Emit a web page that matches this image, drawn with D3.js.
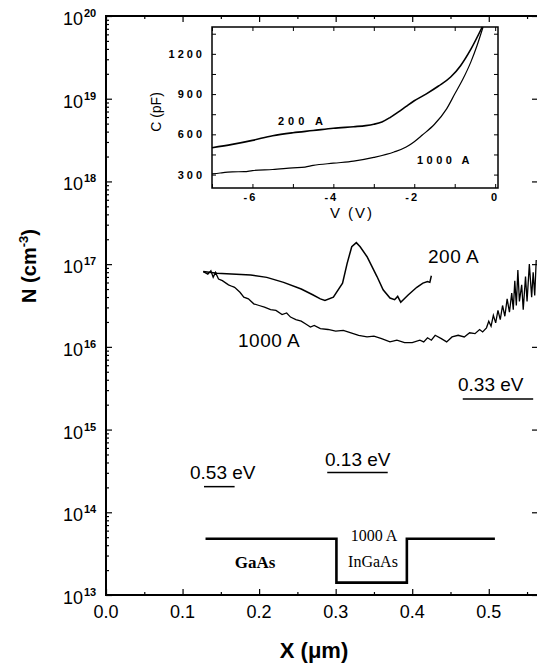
<!DOCTYPE html>
<html>
<head>
<meta charset="utf-8">
<script src="https://cdn.jsdelivr.net/npm/d3@7"></script>
<style>
  body { margin: 0; background: #fff; }
  svg { display: block; font-family: Arial, "Liberation Sans", sans-serif; }
</style>
</head>
<body>
<svg id="chart" width="537" height="666"></svg>
<script>
// main plot: X (um) vs log10 N
const xTicks = [0.0, 0.1, 0.2, 0.3, 0.4, 0.5];
const yExps = [13, 14, 15, 16, 17, 18, 19, 20];

const x200 = [0.127, 0.145, 0.189, 0.210, 0.232, 0.255, 0.270, 0.280, 0.286, 0.297, 0.309, 0.315, 0.321, 0.327, 0.332, 0.341, 0.354, 0.362, 0.371, 0.377, 0.381, 0.385, 0.395, 0.406, 0.414, 0.420, 0.423, 0.425];
const logN200 = [16.91, 16.89, 16.87, 16.84, 16.78, 16.70, 16.63, 16.58, 16.56, 16.60, 16.77, 17.01, 17.21, 17.26, 17.21, 17.09, 16.85, 16.69, 16.59, 16.57, 16.61, 16.54, 16.63, 16.72, 16.77, 16.79, 16.78, 16.86];

const x1000 = [0.127, 0.133, 0.137, 0.140, 0.143, 0.147, 0.152, 0.160, 0.165, 0.168, 0.175, 0.180, 0.186, 0.193, 0.200, 0.207, 0.215, 0.222, 0.230, 0.236, 0.241, 0.248, 0.255, 0.262, 0.267, 0.272, 0.280, 0.290, 0.300, 0.310, 0.320, 0.330, 0.341, 0.350, 0.360, 0.371, 0.380, 0.390, 0.400, 0.410, 0.415, 0.420, 0.425, 0.430, 0.438, 0.445, 0.452, 0.460, 0.468, 0.475, 0.482, 0.488, 0.492, 0.497, 0.500, 0.503, 0.506, 0.509, 0.512, 0.515, 0.518, 0.521, 0.524, 0.527, 0.530, 0.532, 0.534, 0.536, 0.538, 0.540, 0.543, 0.545, 0.548, 0.550, 0.553, 0.556, 0.558, 0.560, 0.562];
const logN1000 = [16.91, 16.88, 16.92, 16.84, 16.90, 16.82, 16.80, 16.75, 16.73, 16.72, 16.66, 16.60, 16.58, 16.52, 16.50, 16.48, 16.45, 16.44, 16.39, 16.41, 16.36, 16.33, 16.31, 16.27, 16.24, 16.26, 16.22, 16.21, 16.19, 16.20, 16.17, 16.14, 16.12, 16.13, 16.10, 16.06, 16.08, 16.05, 16.05, 16.08, 16.06, 16.11, 16.08, 16.14, 16.10, 16.06, 16.12, 16.14, 16.12, 16.17, 16.16, 16.21, 16.18, 16.23, 16.31, 16.25, 16.38, 16.29, 16.44, 16.33, 16.50, 16.37, 16.58, 16.42, 16.65, 16.45, 16.80, 16.50, 16.93, 16.55, 16.75, 16.45, 16.85, 16.55, 17.00, 16.60, 16.90, 16.62, 17.05];

// energy levels (x start, x end, log10 N) and labels
const levelNames = ["0.53 eV", "0.13 eV", "0.33 eV"];
const levelX0 = [0.128, 0.289, 0.466];
const levelX1 = [0.168, 0.368, 0.558];
const levelLogN = [14.31, 14.48, 15.37];

// band profile (GaAs / InGaAs / GaAs)
const bandX = [0.130, 0.301, 0.301, 0.393, 0.393, 0.508];
const bandLogN = [13.68, 13.68, 13.15, 13.15, 13.68, 13.68];

// inset: C-V curves
const vTicks = [-6, -4, -2, 0];
const cTicks = [300, 600, 900, 1200];
const v200 = [-7, -6.5, -6, -5.5, -5, -4.5, -4, -3.5, -3.2, -3, -2.8, -2.6, -2.4, -2.2, -2, -1.7, -1.4, -1.1, -0.86, -0.6, -0.32];
const c200 = [500, 525, 555, 590, 612, 628, 645, 657, 665, 675, 692, 725, 765, 808, 850, 902, 960, 1027, 1110, 1235, 1400];
const v1000 = [-7, -6.8, -6.5, -6.2, -6, -5.5, -5, -4.7, -4.5, -4, -3.5, -3, -2.5, -2.2, -2, -1.8, -1.5, -1.2, -1, -0.8, -0.6, -0.45, -0.3];
const c1000 = [305, 312, 320, 322, 330, 338, 350, 356, 368, 385, 400, 428, 468, 505, 545, 595, 675, 790, 900, 1010, 1140, 1260, 1400];

const svg = d3.select("#chart");
const L = 106, R = 537, T = 16, B = 595;

const x = d3.scaleLinear().domain([0, 0.563]).range([L, R]);
const y = d3.scaleLog().domain([1e13, 1e20]).range([B, T]);

// ticks
const minorX = d3.range(0.05, 0.56, 0.1);
const minorY = [];
yExps.slice(0, -1).forEach(e => { for (let k = 2; k <= 9; k++) minorY.push(k * Math.pow(10, e)); });
const majorY = yExps.map(e => Math.pow(10, e));

function ticks(axis, pos, vals, size) {
  const g = svg.append("g").attr("transform", pos).call(axis.tickValues(vals).tickSize(size).tickFormat(""));
  g.select(".domain").remove();
  g.selectAll("line").attr("stroke", "#000").attr("stroke-width", 1.2);
}
ticks(d3.axisBottom(x), `translate(0,${B})`, xTicks, -6);
ticks(d3.axisBottom(x), `translate(0,${B})`, minorX, -3);
ticks(d3.axisTop(x), `translate(0,${T})`, xTicks, -6);
ticks(d3.axisTop(x), `translate(0,${T})`, minorX, -3);
ticks(d3.axisLeft(y), `translate(${L},0)`, majorY, -6);
ticks(d3.axisLeft(y), `translate(${L},0)`, minorY, -3);
ticks(d3.axisRight(y), `translate(${R},0)`, majorY, -5);

// frame
svg.append("path")
  .attr("d", `M${R},${T}H${L}V${B}H${R}`)
  .attr("fill", "none").attr("stroke", "#000").attr("stroke-width", 2);

// tick labels
svg.append("g").selectAll("text").data(xTicks).join("text")
  .attr("x", d => x(d)).attr("y", 618)
  .attr("text-anchor", "middle").attr("font-size", 18)
  .text(d => d.toFixed(1));

const yl = svg.append("g").selectAll("g").data(yExps).join("g")
  .attr("transform", d => `translate(83,${y(Math.pow(10, d))})`);
yl.append("text").attr("x", 0).attr("y", 9).attr("text-anchor", "end").attr("font-size", 18).text("10");
yl.append("text").attr("x", 1).attr("y", 1).attr("font-size", 11).attr("font-weight", "bold").text(d => d);

// axis titles
svg.append("text").attr("x", 314).attr("y", 658).attr("text-anchor", "middle")
  .attr("font-size", 22).attr("font-weight", "bold").text("X (\u03bcm)");
const yt = svg.append("text").attr("transform", "translate(36,266) rotate(-90)")
  .attr("text-anchor", "middle").attr("font-size", 20).attr("font-weight", "bold");
yt.append("tspan").text("N (cm");
yt.append("tspan").attr("dy", -8).attr("font-size", 13).text("-3");
yt.append("tspan").attr("dy", 8).text(")");

// curves
const line = d3.line().x(d => x(d[0])).y(d => y(Math.pow(10, d[1])));
svg.append("path").datum(d3.zip(x1000, logN1000))
  .attr("d", line).attr("fill", "none").attr("stroke", "#000").attr("stroke-width", 1.3);
svg.append("path").datum(d3.zip(x200, logN200))
  .attr("d", line).attr("fill", "none").attr("stroke", "#000").attr("stroke-width", 1.5);

svg.append("text").attr("x", 428).attr("y", 263).attr("font-size", 19).attr("letter-spacing", 0.5).text("200 A");
svg.append("text").attr("x", 238).attr("y", 347).attr("font-size", 19).attr("letter-spacing", 0.5).text("1000 A");

// energy levels
levelNames.forEach((name, i) => {
  const yy = y(Math.pow(10, levelLogN[i]));
  svg.append("line").attr("x1", x(levelX0[i])).attr("x2", x(levelX1[i]))
    .attr("y1", yy).attr("y2", yy).attr("stroke", "#000").attr("stroke-width", 1.5);
});
svg.append("text").attr("x", 190).attr("y", 479).attr("font-size", 19).text(levelNames[0]);
svg.append("text").attr("x", 325).attr("y", 466).attr("font-size", 19).text(levelNames[1]);
svg.append("text").attr("x", 458).attr("y", 391).attr("font-size", 19).text(levelNames[2]);

// band diagram
svg.append("path").datum(d3.zip(bandX, bandLogN))
  .attr("d", line).attr("fill", "none").attr("stroke", "#000").attr("stroke-width", 2.6);
svg.append("text").attr("x", 255).attr("y", 568).attr("text-anchor", "middle")
  .attr("font-family", "'Liberation Serif', 'Times New Roman', serif")
  .attr("font-weight", "bold").attr("font-size", 17).text("GaAs");
svg.append("text").attr("x", 374).attr("y", 541).attr("text-anchor", "middle")
  .attr("font-family", "'Liberation Serif', 'Times New Roman', serif")
  .attr("font-size", 16).text("1000 A");
svg.append("text").attr("x", 373).attr("y", 567).attr("text-anchor", "middle")
  .attr("font-family", "'Liberation Serif', 'Times New Roman', serif")
  .attr("font-size", 16).text("InGaAs");

// inset
const IL = 212, IR = 498, IT = 27, IB = 188;
const ix = d3.scaleLinear().domain([-7, 0.07]).range([IL, IR]);
const iy = d3.scaleLinear().domain([200, 1400]).range([IB, IT]);
const inset = svg.append("g");
inset.append("rect").attr("x", IL).attr("y", IT).attr("width", IR - IL).attr("height", IB - IT)
  .attr("fill", "#fff").attr("stroke", "#000").attr("stroke-width", 1.5);

function iticks(axis, pos, vals, size) {
  const g = inset.append("g").attr("transform", pos).call(axis.tickValues(vals).tickSize(size).tickFormat(""));
  g.select(".domain").remove();
  g.selectAll("line").attr("stroke", "#000");
}
const vAll = d3.range(-7, 0.5, 1);
const cAll = d3.range(300, 1400, 150);
iticks(d3.axisBottom(ix), `translate(0,${IB})`, vAll, -4);
iticks(d3.axisTop(ix), `translate(0,${IT})`, vAll, -4);
iticks(d3.axisLeft(iy), `translate(${IL},0)`, cAll, -4);
iticks(d3.axisRight(iy), `translate(${IR},0)`, cAll, -4);

inset.append("g").selectAll("text").data(vTicks).join("text")
  .attr("x", d => ix(d) - (d < 0 ? 2 : 0)).attr("y", 201).attr("text-anchor", "middle")
  .attr("font-size", 11).attr("font-weight", "bold").attr("letter-spacing", 2)
  .text(d => d < 0 ? "-" + (-d) : d);
inset.append("g").selectAll("text").data(cTicks).join("text")
  .attr("x", 205).attr("y", d => iy(d) + 4).attr("text-anchor", "end")
  .attr("font-size", 11).attr("font-weight", "bold").attr("letter-spacing", 3)
  .text(d => d);

inset.append("text").attr("x", 352).attr("y", 218).attr("text-anchor", "middle")
  .attr("font-size", 15).attr("letter-spacing", 2).text("V (V)");
inset.append("text").attr("transform", "translate(161,112) rotate(-90)").attr("text-anchor", "middle")
  .attr("font-size", 14).text("C (pF)");

const iline = d3.line().x(d => ix(d[0])).y(d => iy(d[1])).curve(d3.curveMonotoneX);
inset.append("path").datum(d3.zip(v200, c200)).attr("d", iline)
  .attr("fill", "none").attr("stroke", "#000").attr("stroke-width", 1.6);
inset.append("path").datum(d3.zip(v1000, c1000)).attr("d", iline)
  .attr("fill", "none").attr("stroke", "#000").attr("stroke-width", 1.2);

inset.append("text").attr("x", 278).attr("y", 125).attr("font-size", 11).attr("font-weight", "bold")
  .attr("letter-spacing", 4).text("200 A");
inset.append("text").attr("x", 417).attr("y", 164).attr("font-size", 11).attr("font-weight", "bold")
  .attr("letter-spacing", 3.5).text("1000 A");
</script>
</body>
</html>
